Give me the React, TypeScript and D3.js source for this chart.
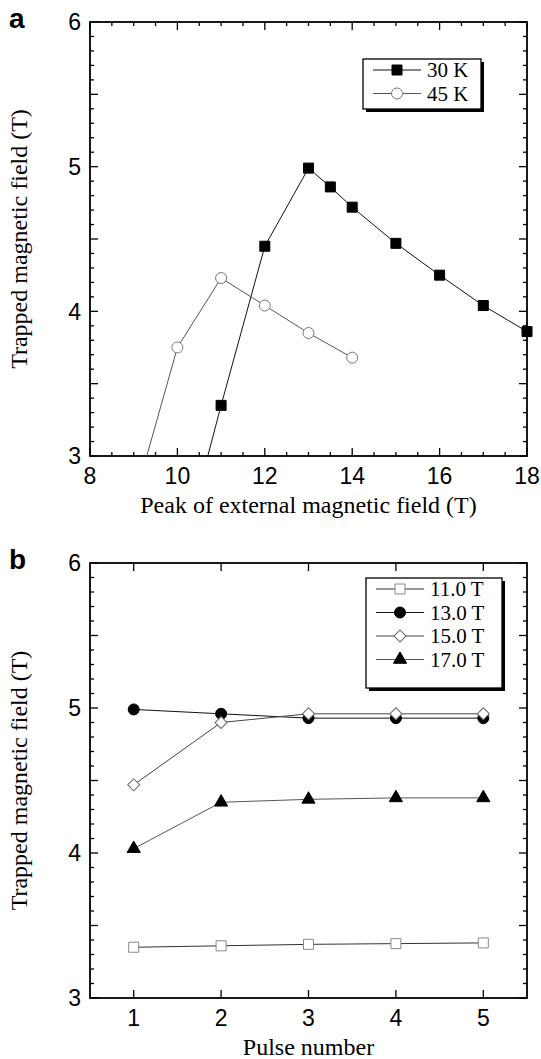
import React from "react";
import * as d3 from "d3";

// panel a: trapped field vs peak of applied field
const field30K = [10, 11, 12, 13, 13.5, 14, 15, 16, 17, 18];
const trapped30K = [2.2, 3.35, 4.45, 4.99, 4.86, 4.72, 4.47, 4.25, 4.04, 3.86];
const field45K = [9, 10, 11, 12, 13, 14];
const trapped45K = [2.68, 3.75, 4.23, 4.04, 3.85, 3.68];
const xTicksA = [8, 10, 12, 14, 16, 18];

// panel b: trapped field vs pulse number
const pulses = [1, 2, 3, 4, 5];
const trapped11T = [3.35, 3.36, 3.37, 3.375, 3.38];
const trapped13T = [4.99, 4.96, 4.93, 4.93, 4.93];
const trapped15T = [4.47, 4.9, 4.96, 4.96, 4.96];
const trapped17T = [4.03, 4.35, 4.37, 4.38, 4.38];
const yTicks = [3, 4, 5, 6];

const SANS = "'Liberation Sans', Arial, sans-serif";
const SERIF = "'Liberation Serif', 'Times New Roman', serif";

type Series = {
  name: string;
  xs: number[];
  ys: number[];
  shape: "square" | "circle" | "diamond" | "triangle";
  fill: string;
  stroke: string;
  line: string;
};

const symbolPath = (shape: Series["shape"]) => {
  if (shape === "square") return d3.symbol(d3.symbolSquare, 100)()!;
  if (shape === "circle") return d3.symbol(d3.symbolCircle, 95)()!;
  if (shape === "diamond") return d3.symbol(d3.symbolSquare, 72)()!;
  return d3.symbol(d3.symbolTriangle, 75)()!;
};

const Marker = ({ s, x, y }: { s: Series; x: number; y: number }) => (
  <path
    d={symbolPath(s.shape)}
    transform={`translate(${x},${y})${s.shape === "diamond" ? " rotate(45)" : ""}`}
    fill={s.fill}
    stroke={s.stroke}
    strokeWidth={1}
  />
);

type PanelProps = {
  id: string;
  label: string;
  top: number;
  bottom: number;
  left: number;
  right: number;
  xDomain: [number, number];
  xLabels: number[];
  xMinor: number[];
  xTitle: string;
  series: Series[];
  legend: { x: number; y: number; w: number; h: number };
};

const Panel = (p: PanelProps) => {
  const x = d3.scaleLinear().domain(p.xDomain).range([p.left, p.right]);
  const y = d3.scaleLinear().domain([3, 6]).range([p.bottom, p.top]);
  const yMinor = d3.range(30, 61).map((v) => v / 10);
  const line = d3
    .line<[number, number]>()
    .x((d) => x(d[0]))
    .y((d) => y(d[1]));
  const clipId = `clip-${p.id}`;
  return (
    <g>
      <defs>
        <clipPath id={clipId}>
          <rect x={p.left - 12} y={p.top - 12} width={p.right - p.left + 24} height={p.bottom - p.top + 12} />
        </clipPath>
      </defs>
      {/* ticks inside, mirrored on all four sides */}
      {yMinor.map((v) => {
        const len = Math.abs(v * 2 - Math.round(v * 2)) < 1e-6 ? 8 : 4;
        return (
          <g key={"y" + v} stroke="#000" strokeWidth={1.3}>
            <line x1={p.left} x2={p.left + len} y1={y(v)} y2={y(v)} />
            <line x1={p.right} x2={p.right - len} y1={y(v)} y2={y(v)} />
          </g>
        );
      })}
      {p.xMinor.map((v) => {
        const len = p.xLabels.includes(v) ? 8 : 4;
        return (
          <g key={"x" + v} stroke="#000" strokeWidth={1.3}>
            <line x1={x(v)} x2={x(v)} y1={p.bottom} y2={p.bottom - len} />
            <line x1={x(v)} x2={x(v)} y1={p.top} y2={p.top + len} />
          </g>
        );
      })}
      <rect x={p.left} y={p.top} width={p.right - p.left} height={p.bottom - p.top} fill="none" stroke="#000" strokeWidth={1.8} />
      {yTicks.map((v) => (
        <text key={"yl" + v} x={p.left - 9} y={y(v)} dy="0.36em" textAnchor="end" fontFamily={SANS} fontSize={23}>
          {v}
        </text>
      ))}
      {p.xLabels.map((v) => (
        <text key={"xl" + v} x={x(v)} y={p.bottom + 28} textAnchor="middle" fontFamily={SANS} fontSize={23}>
          {v}
        </text>
      ))}
      <text x={(p.left + p.right) / 2} y={p.bottom + 57} textAnchor="middle" fontFamily={SERIF} fontSize={24}>
        {p.xTitle}
      </text>
      <text
        transform={`translate(27,${(p.top + p.bottom) / 2}) rotate(-90)`}
        textAnchor="middle"
        fontFamily={SERIF}
        fontSize={24}
      >
        Trapped magnetic field (T)
      </text>
      <text x={9} y={p.top + 6} fontFamily={SANS} fontWeight="bold" fontSize={28}>
        {p.label}
      </text>
      <g clipPath={`url(#${clipId})`}>
        {p.series.map((s) => (
          <g key={s.name}>
            <path d={line(s.xs.map((v, i) => [v, s.ys[i]]))!} fill="none" stroke={s.line} strokeWidth={1} />
            {s.xs.map((v, i) => (
              <Marker key={i} s={s} x={x(v)} y={y(s.ys[i])} />
            ))}
          </g>
        ))}
      </g>
      {/* legend with drop shadow */}
      <rect x={p.legend.x + 3} y={p.legend.y + 3} width={p.legend.w} height={p.legend.h} fill="#000" />
      <rect x={p.legend.x} y={p.legend.y} width={p.legend.w} height={p.legend.h} fill="#fff" stroke="#000" strokeWidth={1.3} />
      {p.series.map((s, i) => {
        const cy = p.legend.y + 11 + 23.5 * i;
        return (
          <g key={"lg" + s.name}>
            <line x1={p.legend.x + 10} x2={p.legend.x + 58} y1={cy} y2={cy} stroke={s.line} strokeWidth={1} />
            <Marker s={s} x={p.legend.x + 34} y={cy} />
            <text x={p.legend.x + 64} y={cy} dy="0.35em" fontFamily={SERIF} fontSize={21}>
              {s.name}
            </text>
          </g>
        );
      })}
    </g>
  );
};

const seriesA: Series[] = [
  { name: "30 K", xs: field30K, ys: trapped30K, shape: "square", fill: "#000", stroke: "#000", line: "#111" },
  { name: "45 K", xs: field45K, ys: trapped45K, shape: "circle", fill: "#fff", stroke: "#777", line: "#555" },
];

const seriesB: Series[] = [
  { name: "11.0 T", xs: pulses, ys: trapped11T, shape: "square", fill: "#fff", stroke: "#888", line: "#333" },
  { name: "13.0 T", xs: pulses, ys: trapped13T, shape: "circle", fill: "#000", stroke: "#000", line: "#111" },
  { name: "15.0 T", xs: pulses, ys: trapped15T, shape: "diamond", fill: "#fff", stroke: "#666", line: "#444" },
  { name: "17.0 T", xs: pulses, ys: trapped17T, shape: "triangle", fill: "#000", stroke: "#000", line: "#555" },
];

export default function App() {
  return (
    <svg width={541} height={1059} style={{ position: "absolute", left: 0, top: 0, background: "#fff" }}>
      <Panel
        id="a"
        label="a"
        top={22}
        bottom={456}
        left={90}
        right={527}
        xDomain={[8, 18]}
        xLabels={xTicksA}
        xMinor={d3.range(16, 37).map((v) => v / 2)}
        xTitle="Peak of external magnetic field (T)"
        series={seriesA}
        legend={{ x: 363, y: 59, w: 118, h: 50 }}
      />
      <Panel
        id="b"
        label="b"
        top={563}
        bottom={998}
        left={90}
        right={527}
        xDomain={[0.5, 5.5]}
        xLabels={pulses}
        xMinor={pulses}
        xTitle="Pulse number"
        series={seriesB}
        legend={{ x: 366, y: 578, w: 136, h: 110 }}
      />
    </svg>
  );
}
